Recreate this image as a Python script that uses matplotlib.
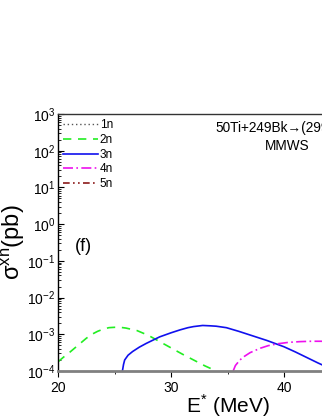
import matplotlib
matplotlib.use("Agg")
import matplotlib.pyplot as plt
import numpy as np

plt.rcParams['font.family'] = ['Liberation Sans', 'DejaVu Sans']

# Data (E* in MeV, log10 of cross section in pb)
E_2n = [20.0, 20.5, 21.0, 21.5, 22.0, 22.5, 23.0, 23.5, 24.0, 24.5, 25.0, 25.5, 26.0, 27.0, 28.0, 29.0, 30.0, 31.0, 32.0, 33.0, 34.0]
L_2n = [-3.75, -3.62, -3.50, -3.37, -3.24, -3.11, -3.00, -2.92, -2.86, -2.82, -2.81, -2.81, -2.83, -2.90, -3.03, -3.20, -3.37, -3.54, -3.70, -3.86, -4.00]

E_3n = [25.7, 25.8, 25.9, 26.2, 26.6, 27.2, 27.8, 28.4, 29.0, 30.0, 30.8, 31.5, 32.0, 32.8, 33.5, 34.0, 34.9, 36.0, 37.3, 38.5, 40.0, 41.0, 42.0, 43.0, 43.5, 44.6]
L_3n = [-4.00, -3.82, -3.70, -3.57, -3.47, -3.35, -3.25, -3.16, -3.07, -2.96, -2.88, -2.82, -2.79, -2.76, -2.77, -2.78, -2.82, -2.92, -3.05, -3.17, -3.34, -3.48, -3.63, -3.78, -3.85, -4.00]

E_4n = [35.5, 35.7, 36.1, 36.5, 37.0, 37.9, 38.6, 39.4, 40.4, 41.4, 42.4, 43.3, 44.0]
L_4n = [-4.00, -3.85, -3.70, -3.60, -3.50, -3.38, -3.31, -3.26, -3.22, -3.20, -3.19, -3.19, -3.20]

series_labels = ['1n', '2n', '3n', '4n', '5n']
x_ticks = [20, 30, 40, 50]
y_decades = [-4, -3, -2, -1, 0, 1, 2, 3]

fig = plt.figure(figsize=(3.22, 4.16), dpi=100)
H = 416.0
W = 322.0
ax = fig.add_axes([58 / W, 1 - 371 / H, 339 / W, (371 - 114) / H])

ax.set_yscale('log')
ax.set_xlim(20, 50)
ax.set_ylim(1e-4, 1e3)

ax.plot([], [], ls=(0, (1, 2)), color='#555555', lw=1.0, label=series_labels[0])
ax.plot(E_2n, 10 ** np.array(L_2n), ls=(0, (5, 4)), color='#22ee22', lw=1.2, label=series_labels[1])
ax.plot(E_3n, 10 ** np.array(L_3n), ls='-', color='#1010ee', lw=1.2, label=series_labels[2])
ax.plot(E_4n, 10 ** np.array(L_4n), ls=(0, (6, 2, 1, 2)), color='#ee10ee', lw=1.2, label=series_labels[3])
ax.plot([], [], ls=(0, (4, 2, 1, 2, 1, 2)), color='#8b1a1a', lw=1.2, label=series_labels[4])

ax.set_xticks(x_ticks)
ax.set_xticks([25, 35, 45], minor=True)
ax.set_yticks([10.0 ** d for d in y_decades])
ax.set_yticklabels([r'$\mathregular{10^{%d}}$' % d for d in y_decades])
ax.yaxis.set_minor_locator(matplotlib.ticker.LogLocator(base=10, subs=np.arange(2, 10), numticks=50))
ax.yaxis.set_minor_formatter(matplotlib.ticker.NullFormatter())

ax.tick_params(axis='y', which='major', direction='in', length=4, width=0.8, labelsize=10, pad=2)
ax.tick_params(axis='y', which='minor', direction='in', length=2, width=0.6)
ax.tick_params(axis='x', which='major', direction='out', length=4, width=0.8, labelsize=10, pad=3)
ax.tick_params(axis='x', which='minor', direction='out', length=2, width=0.6)

ax.spines['bottom'].set_color('#808080')
ax.spines['bottom'].set_linewidth(2.0)
ax.spines['left'].set_linewidth(1.0)
ax.spines['top'].set_linewidth(1.0)
ax.spines['top'].set_color('#333333')

ax.set_xlabel(r'E$^{\mathregular{*}}$ (MeV)', fontsize=15, labelpad=-2)
ax.set_ylabel(r'$\mathregular{\sigma^{xn}}$(pb)', fontsize=17, labelpad=0)

ax.text(21.5, 10 ** -0.62, '(f)', fontsize=13, va='center', ha='left')
ax.text(33.9, 10 ** 2.62, '50Ti+249Bk→(299)119*', fontsize=9.8, va='center', ha='left')
ax.text(38.3, 10 ** 2.12, 'MMWS', fontsize=9.8, va='center', ha='left')

leg = ax.legend(loc='upper left', bbox_to_anchor=(0.0, 1.0), frameon=False, fontsize=8.5,
                handlelength=2.9, handletextpad=0.2, labelspacing=0.23,
                borderaxespad=0.0, borderpad=0.45)

fig.savefig('out.png', dpi=100)
